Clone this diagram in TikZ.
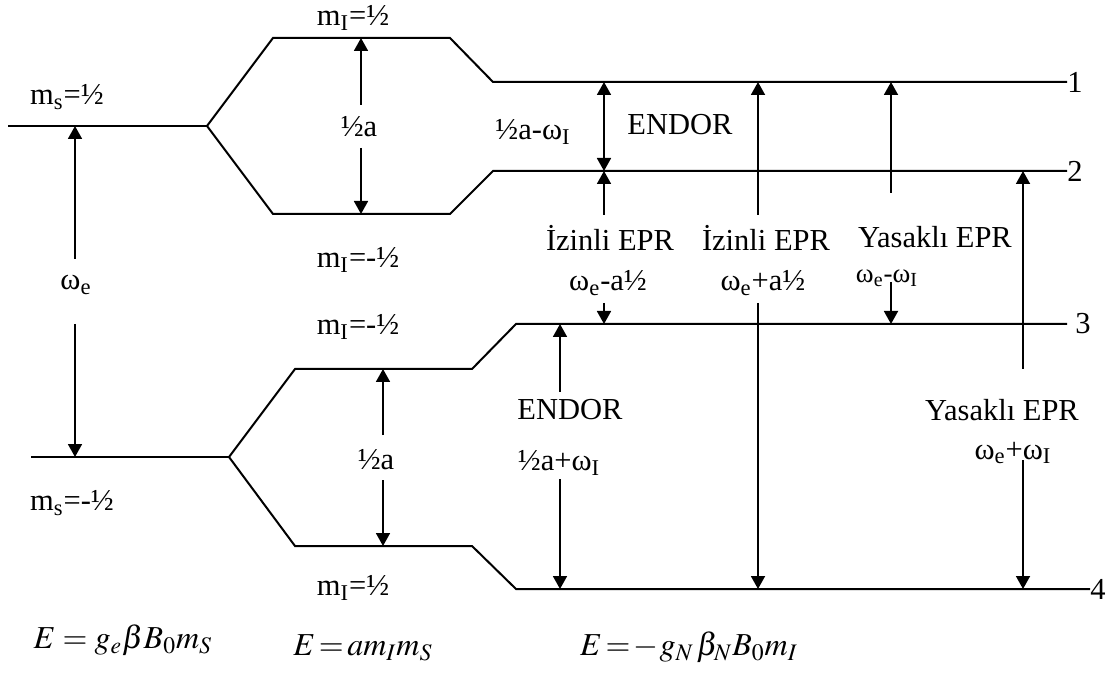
\documentclass[tikz,border=0pt]{standalone}
\usepackage{mathptmx}
\usepackage[no-math]{fontspec}
\setmainfont{Liberation Serif}
\usetikzlibrary{calc,arrows.meta}

\begin{document}
\begin{tikzpicture}[
    x=0.5pt, y=-0.5pt,
    lvl/.style={line width=1pt},
    arr/.style={-{Triangle[length=6.5pt,width=7pt]}, line width=0.9pt},
    darr/.style={{Triangle[length=6.5pt,width=7pt]}-{Triangle[length=6.5pt,width=7pt]}, line width=0.9pt},
    txt/.style={font=\fontsize{15.25}{18}\selectfont, inner sep=0pt},
    stxt/.style={font=\fontsize{13.5}{16}\selectfont, inner sep=0pt},
    eq/.style={font=\fontsize{16}{19}\selectfont, inner sep=0pt},
    num/.style={font=\fontsize{15.25}{18}\selectfont, inner sep=0pt, anchor=west},
]
\useasboundingbox (0,0) rectangle (1113,673);
\coordinate (m1) at (8,126);
\coordinate (m2) at (31,457);
\coordinate (s1) at (207,126);
\coordinate (s2) at (229,457);
\coordinate (L1) at (1067,82);
\coordinate (L2) at (1067,171);
\coordinate (L3) at (1067,324);
\coordinate (L4) at (1090,589);
\foreach \n/\x in {we/75, ha/361, hb/383, ia/604, ib/758, ya/891, en/560, yb/1023}
    \coordinate (c\n) at (\x,0);
\draw[lvl] (m1) -- (s1);
\draw[lvl] (m2) -- (s2);
\draw[lvl] (s1) -- (273,38) -- (450,38) coordinate (u1) -- (493,82) -- (L1);
\draw[lvl] (s1) -- (273,214) -- (450,214) coordinate (u2) -- (493,171) -- (L2);
\draw[lvl] (s2) -- (295,369) -- (472,369) coordinate (d1) -- (516,324) -- (L3);
\draw[lvl] (s2) -- (295,546) -- (472,546) coordinate (d2) -- (516,589) -- (L4);
\node[num] (n1) at (L1) {1};
\node[num] (n2) at (L2) {2};
\node[num] (n3) at ($(L3)+(8,0)$) {3};
\node[num] (n4) at (L4) {4};
\node[txt] (msU) at (67,97) {m\textsubscript{s}=½};
\node[txt] (msD) at (72,503) {m\textsubscript{s}=-½};
\node[txt] (miA) at (353,18) {m\textsubscript{I}=½};
\node[txt] (miB) at (358,260) {m\textsubscript{I}=-½};
\node[txt] (miC) at (358,327) {m\textsubscript{I}=-½};
\node[txt] (miD) at (353,588) {m\textsubscript{I}=½};
\node[txt] (we) at (76,285) {ω\textsubscript{e}};
\node[txt] (haU) at (359,127) {½a};
\node[txt] (haD) at (376,460) {½a};
\node[txt] (enU) at (680,125) {ENDOR};
\node[txt] (enUf) at (533,132) {½a-ω\textsubscript{I}};
\node[txt] (izA) at (610,238) {İzinli EPR};
\node[txt] (izB) at (766,238) {İzinli EPR};
\node[txt] (yaA) at (935,237) {Yasaklı EPR};
\node[txt] (fA) at (608,283) {ω\textsubscript{e}-a½};
\node[txt] (fB) at (763,283) {ω\textsubscript{e}+a½};
\node[stxt] (fC) at (887,278) {ω\textsubscript{e}-ω\textsubscript{I}};
\node[txt] (enD) at (570,410) {ENDOR};
\node[txt] (enDf) at (559,463) {½a+ω\textsubscript{I}};
\node[txt] (yaB) at (1002,410) {Yasaklı EPR};
\node[txt] (fE) at (1013,453) {ω\textsubscript{e}+ω\textsubscript{I}};
\draw[arr] ($(cwe |- we.center)+(0,-26)$) -- (cwe |- m1);
\draw[arr] ($(cwe |- we.center)+(0,39)$) -- (cwe |- m2);
\draw[arr] ($(cha |- haU.center)+(0,-22)$) -- (cha |- u1);
\draw[arr] ($(cha |- haU.center)+(0,21)$) -- (cha |- u2);
\draw[arr] ($(chb |- haD.center)+(0,-25)$) -- (chb |- d1);
\draw[arr] ($(chb |- haD.center)+(0,20)$) -- (chb |- d2);
\draw[darr] (cia |- L1) -- (cia |- L2);
\draw[arr] ($(cia |- izA.center)+(0,-23)$) -- (cia |- L2);
\draw[arr] ($(cia |- fA.center)+(0,20)$) -- (cia |- L3);
\draw[arr] ($(cib |- izB.center)+(0,-23)$) -- (cib |- L1);
\draw[arr] ($(cib |- fB.center)+(0,20)$) -- (cib |- L4);
\draw[arr] ($(cya |- yaA.center)+(0,-44)$) -- (cya |- L1);
\draw[arr] ($(cya |- fC.center)+(0,4)$) -- (cya |- L3);
\draw[arr] ($(cen |- enD.center)+(0,-18)$) -- (cen |- L3);
\draw[arr] ($(cen |- enDf.center)+(0,16)$) -- (cen |- L4);
\draw[arr] ($(cyb |- yaB.center)+(0,-41)$) -- (cyb |- L2);
\draw[arr] ($(cyb |- fE.center)+(0,7)$) -- (cyb |- L4);
\node[eq] (eqS) at (123,640) {$E = g_e\beta B_0 m_S$};
\node[eq] (eqI) at (363,648) {$E\mkern2mu{=}\mkern2mu a m_I m_S$};
\node[eq] (eqN) at (689,647) {$E\mkern2mu{=}\mkern2mu{-}\mkern0.5mu g_N\mkern1.5mu\beta_N B_0 m_I$};
\end{tikzpicture}
\end{document}
